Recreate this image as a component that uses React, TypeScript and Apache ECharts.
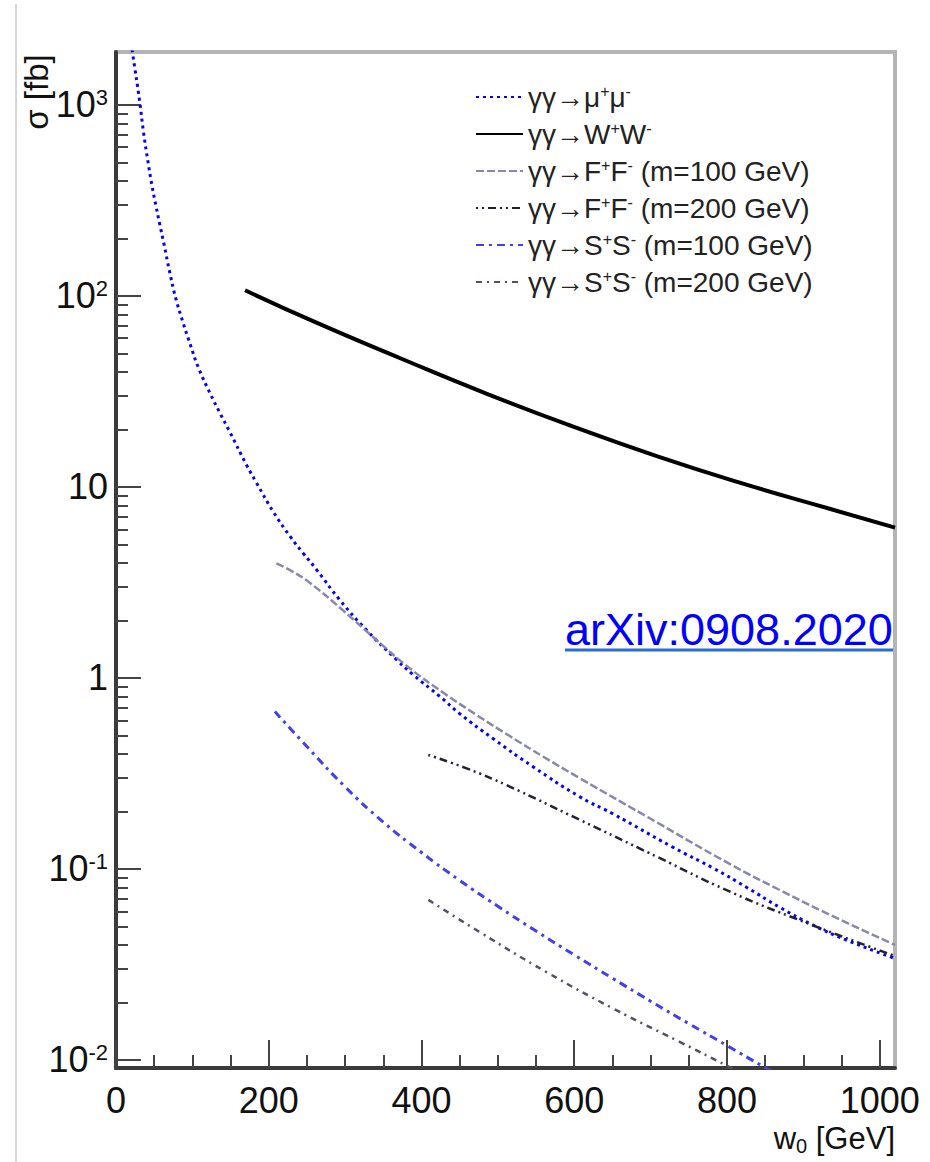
import React, { useEffect, useRef } from "react";
import * as echarts from "echarts";

const FONT = "'Liberation Sans', Arial, Helvetica, sans-serif";

// w0 [GeV], sigma [fb]
const MU_MU: [number, number][] = [
  [21, 1950], [22, 1830], [31, 1040], [36, 720], [42, 500], [47, 380], [52, 300], [57, 240],
  [63, 185], [70, 135], [78, 98], [88, 72], [97, 56], [108, 42], [123, 31], [136, 24.4],
  [149, 19.4], [171, 13], [184, 10.5], [206, 7.4], [228, 5.5], [245, 4.5], [263, 3.67],
  [293, 2.56], [328, 1.78], [367, 1.25], [389, 1.04], [424, 0.8], [450, 0.65], [494, 0.48],
  [546, 0.343], [607, 0.239], [650, 0.195], [729, 0.13], [782, 0.101], [826, 0.08],
  [869, 0.063], [912, 0.051], [956, 0.0425], [1020, 0.034],
];
const W_W: [number, number][] = [
  [169, 107], [261, 72.8], [373, 47], [484, 30.9], [597, 20.8], [708, 14.5], [821, 10.4],
  [932, 7.73], [1020, 6.12],
];
const FF_100: [number, number][] = [
  [210, 3.98], [230, 3.63], [254, 3.14], [297, 2.26], [341, 1.58], [385, 1.12], [428, 0.84],
  [472, 0.64], [516, 0.495], [559, 0.388], [607, 0.299], [695, 0.188], [804, 0.106],
  [869, 0.0776], [935, 0.0575], [1020, 0.04],
];
const FF_200: [number, number][] = [
  [409, 0.395], [460, 0.335], [511, 0.275], [607, 0.181], [708, 0.116], [804, 0.076],
  [900, 0.053], [1020, 0.035],
];
const SS_100: [number, number][] = [
  [208, 0.667], [250, 0.437], [300, 0.269], [350, 0.176], [400, 0.122], [450, 0.0871],
  [500, 0.0638], [550, 0.0473], [600, 0.0355], [650, 0.0268], [700, 0.0203], [750, 0.0155],
  [800, 0.0119], [850, 0.00912], [860, 0.0087],
];
const SS_200: [number, number][] = [
  [409, 0.0689], [476, 0.0468], [564, 0.0288], [651, 0.0186], [738, 0.01245], [800, 0.00933],
  [810, 0.0089],
];

const NAMES = [
  "γγ→μ⁺μ⁻",
  "γγ→W⁺W⁻",
  "γγ→F⁺F⁻ (m=100 GeV)",
  "γγ→F⁺F⁻ (m=200 GeV)",
  "γγ→S⁺S⁻ (m=100 GeV)",
  "γγ→S⁺S⁻ (m=200 GeV)",
];

const X_MAJOR = [0, 200, 400, 600, 800, 1000];
const X_MINOR = [50, 100, 150, 250, 300, 350, 450, 500, 550, 650, 700, 750, 850, 900, 950];
const Y_MAJOR = [0.01, 0.1, 1, 10, 100, 1000];
const Y_MINOR: number[] = [];
for (let d = -2; d <= 2; d++) {
  for (let k = 2; k <= 9; k++) Y_MINOR.push(Number((k * Math.pow(10, d)).toPrecision(6)));
}
const X_MIN = 0;
const X_MAX = 1020;
const Y_MIN = 0.00908;
const Y_MAX = 1890;

const GRID = { left: 116, top: 52, width: 779, height: 1016 };
const TICK_STYLE = { color: "#444", width: 2 };

function yLabel(v: number): string {
  const e = Math.round(Math.log10(v));
  if (e === 0) return "{b|1}";
  if (e === 1) return "{b|10}";
  return "{b|10}{s|" + e + "}";
}

export default function App() {
  const ref = useRef<HTMLDivElement>(null);
  useEffect(() => {
    if (!ref.current) return;
    const chart = echarts.init(ref.current, null, { renderer: "svg" });
    const mk = (name: string, data: [number, number][], color: string, width: number, type: any) => ({
      name,
      type: "line",
      data,
      xAxisIndex: 0,
      yAxisIndex: 0,
      symbol: "none",
      showSymbol: false,
      smooth: 0.5,
      silent: true,
      color,
      lineStyle: { color, width, type },
      emphasis: { disabled: true },
    });
    const option: any = {
      animation: false,
      grid: [
        { ...GRID, show: true, borderColor: "#b4b4b4", borderWidth: 4 },
        { ...GRID, show: false },
      ],
      xAxis: [
        {
          gridIndex: 0, type: "value", min: X_MIN, max: X_MAX,
          axisLine: { show: true, onZero: false, lineStyle: { color: "#3a3a3a", width: 4 } },
          axisTick: { show: true, inside: true, length: 28, customValues: X_MAJOR, lineStyle: TICK_STYLE },
          axisLabel: {
            customValues: X_MAJOR, formatter: (v: number) => String(v),
            fontSize: 36, fontFamily: FONT, color: "#111", margin: 14,
          },
          splitLine: { show: false },
        },
        {
          gridIndex: 1, type: "value", min: X_MIN, max: X_MAX,
          axisLine: { show: false, onZero: false },
          axisTick: { show: true, inside: true, length: 13, customValues: X_MINOR, lineStyle: TICK_STYLE },
          axisLabel: { show: false },
          splitLine: { show: false },
        },
      ],
      yAxis: [
        {
          gridIndex: 0, type: "log", logBase: 10, min: Y_MIN, max: Y_MAX,
          axisLine: { show: true, onZero: false, lineStyle: { color: "#3a3a3a", width: 4 } },
          axisTick: { show: true, inside: true, length: 25, customValues: Y_MAJOR, lineStyle: TICK_STYLE },
          axisLabel: {
            customValues: Y_MAJOR, formatter: yLabel, margin: 8,
            rich: {
              b: { fontSize: 36, fontFamily: FONT, color: "#111", lineHeight: 36 },
              s: { fontSize: 22, fontFamily: FONT, color: "#111", lineHeight: 22, verticalAlign: "top" },
            },
          },
          splitLine: { show: false },
        },
        {
          gridIndex: 1, type: "log", logBase: 10, min: Y_MIN, max: Y_MAX,
          axisLine: { show: false, onZero: false },
          axisTick: { show: true, inside: true, length: 12, customValues: Y_MINOR, lineStyle: TICK_STYLE },
          axisLabel: { show: false },
          splitLine: { show: false },
        },
      ],
      legend: {
        data: NAMES,
        orient: "vertical",
        left: 475,
        top: 83,
        padding: 0,
        itemWidth: 47,
        itemHeight: 20,
        itemGap: 9,
        selectedMode: false,
        itemStyle: { opacity: 0 },
        formatter: (name: string) => name.replace(/⁺/g, "{sup|+}").replace(/⁻/g, "{sup|-}"),
        textStyle: {
          fontSize: 28, fontFamily: FONT, color: "#222", lineHeight: 28,
          rich: { sup: { fontSize: 16, fontFamily: FONT, color: "#222", lineHeight: 16, verticalAlign: "top" } },
        },
      },
      series: [
        mk(NAMES[0], MU_MU, "#0000ff", 3, [3, 4]),
        mk(NAMES[1], W_W, "#000000", 4, "solid"),
        mk(NAMES[2], FF_100, "#8888aa", 2.5, [8, 3]),
        mk(NAMES[3], FF_200, "#222233", 2.5, [2, 4, 2, 4, 8, 4]),
        mk(NAMES[4], SS_100, "#4040ee", 3, [8, 5, 3, 5]),
        mk(NAMES[5], SS_200, "#505068", 2.5, [6, 5, 2, 5]),
      ],
      graphic: [
        { type: "line", silent: true, shape: { x1: 16, y1: 4, x2: 16, y2: 1162 }, style: { stroke: "#d4d4d4", lineWidth: 2 } },
        {
          type: "text", silent: true, x: 36, y: 92, rotation: Math.PI / 2,
          style: { text: "σ [fb]", fontSize: 33, fontFamily: FONT, fill: "#111", align: "center", verticalAlign: "middle" },
        },
        {
          type: "text", silent: true, x: 895, y: 1138,
          style: {
            text: "{a|w}{sub|0}{a| [GeV]}", align: "right", verticalAlign: "middle",
            rich: {
              a: { fontSize: 31, fontFamily: FONT, fill: "#111", lineHeight: 36 },
              sub: { fontSize: 20, fontFamily: FONT, fill: "#111", lineHeight: 10, verticalAlign: "bottom" },
            },
          },
        },
        {
          type: "text", silent: true, x: 565, y: 629,
          style: { text: "arXiv:0908.2020", fontSize: 45, fontFamily: FONT, fill: "#0000ff", align: "left", verticalAlign: "middle" },
        },
        { type: "line", silent: true, shape: { x1: 565, y1: 650, x2: 893, y2: 650 }, style: { stroke: "#2b6cd4", lineWidth: 3 } },
      ],
    };
    chart.setOption(option);
    return () => chart.dispose();
  }, []);
  return <div ref={ref} style={{ position: "absolute", left: 0, top: 0, width: 930, height: 1162 }} />;
}
